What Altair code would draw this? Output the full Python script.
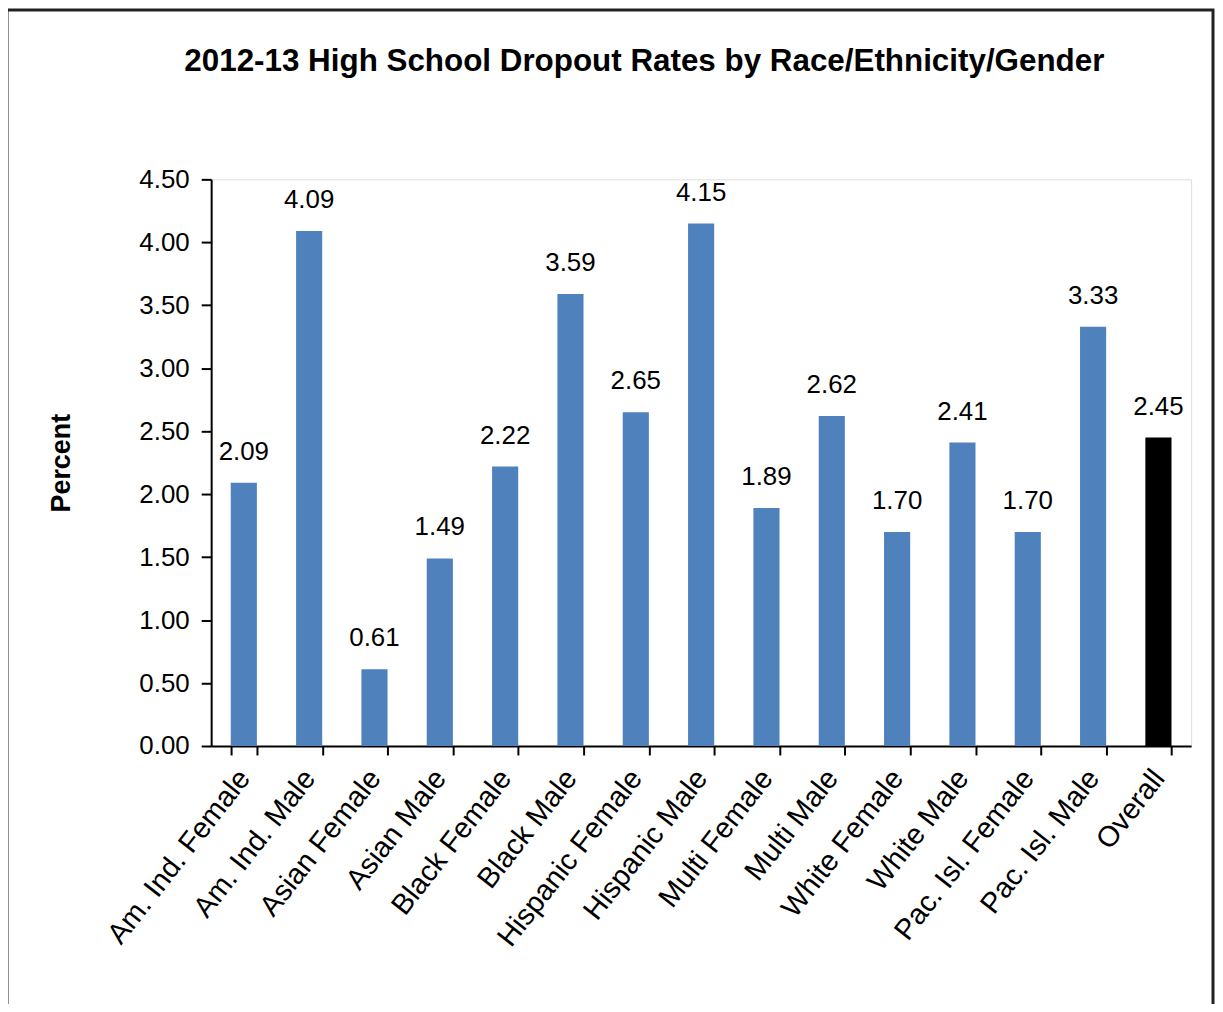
import altair as alt
import pandas as pd

categories = ["Am. Ind. Female", "Am. Ind. Male", "Asian Female", "Asian Male",
              "Black Female", "Black Male", "Hispanic Female", "Hispanic Male",
              "Multi Female", "Multi Male", "White Female", "White Male",
              "Pac. Isl. Female", "Pac. Isl. Male", "Overall"]
values = [2.09, 4.09, 0.61, 1.49, 2.22, 3.59, 2.65, 4.15, 1.89, 2.62,
          1.70, 2.41, 1.70, 3.33, 2.45]
groups = ["Group"] * 14 + ["Overall"]
y_ticks = [0, 0.5, 1.0, 1.5, 2.0, 2.5, 3.0, 3.5, 4.0, 4.5]
title_text = "2012-13 High School Dropout Rates by Race/Ethnicity/Gender"

df = pd.DataFrame({"cat": categories, "val": values, "grp": groups})

FONT = "Liberation Sans"

x_enc = alt.X("cat:N", sort=categories, title=None,
              scale=alt.Scale(paddingInner=0.6, paddingOuter=0.3),
              axis=alt.Axis(labelAngle=-52, labelFontSize=29, labelFont=FONT,
                            labelColor="#000", tickBand="extent", tickSize=9,
                            tickColor="#000", tickWidth=2, domainColor="#000",
                            domainWidth=2, labelPadding=18, labelLimit=400))
y_enc = alt.Y("val:Q", title="Percent",
              scale=alt.Scale(domain=[0, 4.5], nice=False),
              axis=alt.Axis(values=y_ticks, format=".2f", labelFontSize=26,
                            labelFont=FONT, labelColor="#000", tickSize=10,
                            tickColor="#000", tickWidth=2, domainColor="#000",
                            domainWidth=2, labelPadding=12, grid=False,
                            titleFont=FONT, titleFontSize=27, titleFontWeight="bold",
                            titleColor="#000", titlePadding=64))

bars = alt.Chart(df).mark_bar().encode(
    x=x_enc, y=y_enc,
    color=alt.Color("grp:N", scale=alt.Scale(domain=["Group", "Overall"],
                                             range=["#4F81BD", "#000000"]),
                    legend=None),
)

labels = alt.Chart(df).mark_text(baseline="bottom", dy=-18, fontSize=26,
                                 font=FONT, color="#000").encode(
    x=alt.X("cat:N", sort=categories),
    y="val:Q",
    text=alt.Text("val:Q", format=".2f"),
)

frame = alt.Chart(df.head(1)).mark_rect(fill="transparent", stroke="#222",
                                          strokeWidth=3).encode(
    x=alt.value(-205), x2=alt.value(1006), y=alt.value(-170), y2=alt.value(850)
)

title = alt.Chart(df.head(1)).mark_text(
    text=title_text, font=FONT, fontSize=31.5, fontWeight="bold", color="#000",
    align="center", baseline="middle"
).encode(x=alt.value(435), y=alt.value(-118))

chart = alt.layer(frame, title, bars, labels).properties(
    width=984, height=569,
    autosize=alt.AutoSizeParams(type="none"),
    padding={"left": 204, "top": 170, "right": 24, "bottom": 257},
).configure_view(stroke="#8c8c8c", strokeWidth=2).configure(background="white")

chart.save("out.html", embed_options={"renderer": "svg", "actions": False})
